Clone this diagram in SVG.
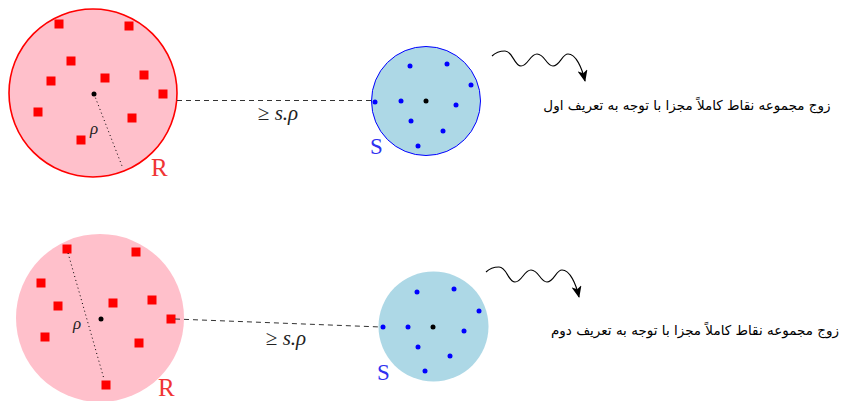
<svg xmlns="http://www.w3.org/2000/svg" width="841" height="401" viewBox="0 0 841 401">
<defs>
<style>
.rfill{fill:#FFC0CB}
.sfill{fill:#ADD8E6}
.sq{fill:#FF0000}
.bd{fill:#0000FF}
.cd{fill:#000000}
.dash{stroke:#333;stroke-width:1;stroke-dasharray:5,4;fill:none}
.dot{stroke:#000;stroke-width:1;stroke-dasharray:1,3;fill:none}
.math{font-family:"Liberation Serif","DejaVu Serif",serif;font-style:italic;fill:#222}
.lblR{font-family:"Liberation Serif","DejaVu Serif",serif;font-size:25px;fill:#f03535}
.lblS{font-family:"Liberation Serif","DejaVu Serif",serif;font-size:23px;fill:#3030f0}
.fa{font-family:"DejaVu Sans","Noto Sans",sans-serif;font-size:13.5px;fill:#000}
.wave{stroke:#000;stroke-width:1.1;fill:none}
</style>
<marker id="ah" viewBox="0 0 12 10" refX="11" refY="5" markerWidth="12" markerHeight="10" markerUnits="userSpaceOnUse" orient="auto">
<path d="M0,0 L12,5 L0,10 L3,5 Z" fill="#000"/>
</marker>
<rect id="sqr" x="-4.5" y="-4.5" width="9" height="9"/>
</defs>
<rect width="841" height="401" fill="#fff"/>

<g id="R1">
<circle cx="93" cy="93" r="84" class="rfill" stroke="#FF0000" stroke-width="1.6"/>
<g class="sq">
<use href="#sqr" x="59" y="24"/>
<use href="#sqr" x="129" y="26"/>
<use href="#sqr" x="71" y="61"/>
<use href="#sqr" x="51" y="81"/>
<use href="#sqr" x="105" y="78"/>
<use href="#sqr" x="144" y="75"/>
<use href="#sqr" x="163" y="94"/>
<use href="#sqr" x="38" y="112"/>
<use href="#sqr" x="132" y="118"/>
<use href="#sqr" x="81" y="140"/>
</g>
<line x1="94" y1="94" x2="122" y2="166" class="dot"/>
<circle cx="94" cy="94" r="2.5" class="cd"/>
<text x="94" y="134" class="math" font-size="17" text-anchor="middle">ρ</text>
<text x="151" y="176" class="lblR">R</text>
</g>

<g id="S1">
<circle cx="426" cy="101" r="54.5" class="sfill" stroke="#0000FF" stroke-width="1"/>
<g class="bd">
<circle cx="410" cy="66" r="2.5"/>
<circle cx="447" cy="64" r="2.5"/>
<circle cx="471" cy="85" r="2.5"/>
<circle cx="375" cy="102" r="2.5"/>
<circle cx="401" cy="101" r="2.5"/>
<circle cx="456" cy="105" r="2.5"/>
<circle cx="411" cy="121" r="2.5"/>
<circle cx="443" cy="131" r="2.5"/>
<circle cx="418" cy="146" r="2.5"/>
</g>
<circle cx="426" cy="101" r="2.5" class="cd"/>
<text x="370" y="154" class="lblS">S</text>
</g>

<g id="R2">
<circle cx="100" cy="318" r="84" class="rfill"/>
<g class="sq">
<use href="#sqr" x="67" y="249"/>
<use href="#sqr" x="136" y="252"/>
<use href="#sqr" x="41" y="283"/>
<use href="#sqr" x="58" y="306"/>
<use href="#sqr" x="113" y="303"/>
<use href="#sqr" x="152" y="300"/>
<use href="#sqr" x="171" y="319"/>
<use href="#sqr" x="45" y="337"/>
<use href="#sqr" x="139" y="343"/>
<use href="#sqr" x="106" y="385"/>
</g>
<line x1="68" y1="253" x2="104" y2="379" class="dot"/>
<circle cx="101" cy="319" r="2.5" class="cd"/>
<text x="77" y="329" class="math" font-size="17" text-anchor="middle">ρ</text>
<text x="158" y="396" class="lblR">R</text>
</g>

<g id="S2">
<circle cx="433.5" cy="326.5" r="55" class="sfill"/>
<g class="bd">
<circle cx="417" cy="292" r="2.5"/>
<circle cx="454" cy="289" r="2.5"/>
<circle cx="479" cy="311" r="2.5"/>
<circle cx="383" cy="327" r="2.5"/>
<circle cx="408" cy="327" r="2.5"/>
<circle cx="464" cy="331" r="2.5"/>
<circle cx="418" cy="347" r="2.5"/>
<circle cx="450" cy="356" r="2.5"/>
<circle cx="425" cy="371" r="2.5"/>
</g>
<circle cx="433" cy="327" r="2.5" class="cd"/>
<text x="377" y="380" class="lblS">S</text>
</g>

<g id="connectors">
<line x1="177" y1="100.5" x2="373" y2="100.5" class="dash"/>
<line x1="175" y1="319" x2="381" y2="327" class="dash"/>
<path class="wave" marker-end="url(#ah)" d="M492,56 C496,52 500,51 505,51 C513,51 514,66 521,66 C528,66 530,54 537,54 C545,54 546,66 553,66 C560,66 562,54 568,54 C576,54 582,68 585,81"/>
<path class="wave" marker-end="url(#ah)" transform="translate(-6,216)" d="M492,56 C496,52 500,51 505,51 C513,51 514,66 521,66 C528,66 530,54 537,54 C545,54 546,66 553,66 C560,66 562,54 568,54 C576,54 582,68 585,81"/>
</g>

<g id="labels">
<text x="278" y="120" class="math" font-size="21" text-anchor="middle"><tspan font-style="normal">≥</tspan> s.ρ</text>
<text x="286" y="345" class="math" font-size="21" text-anchor="middle"><tspan font-style="normal">≥</tspan> s.ρ</text>
<text x="687" y="110" class="fa" text-anchor="middle">زوج مجموعه نقاط کاملاً مجزا با توجه به تعریف اول</text>
<text x="695" y="335" class="fa" text-anchor="middle">زوج مجموعه نقاط کاملاً مجزا با توجه به تعریف دوم</text>
</g>
</svg>
